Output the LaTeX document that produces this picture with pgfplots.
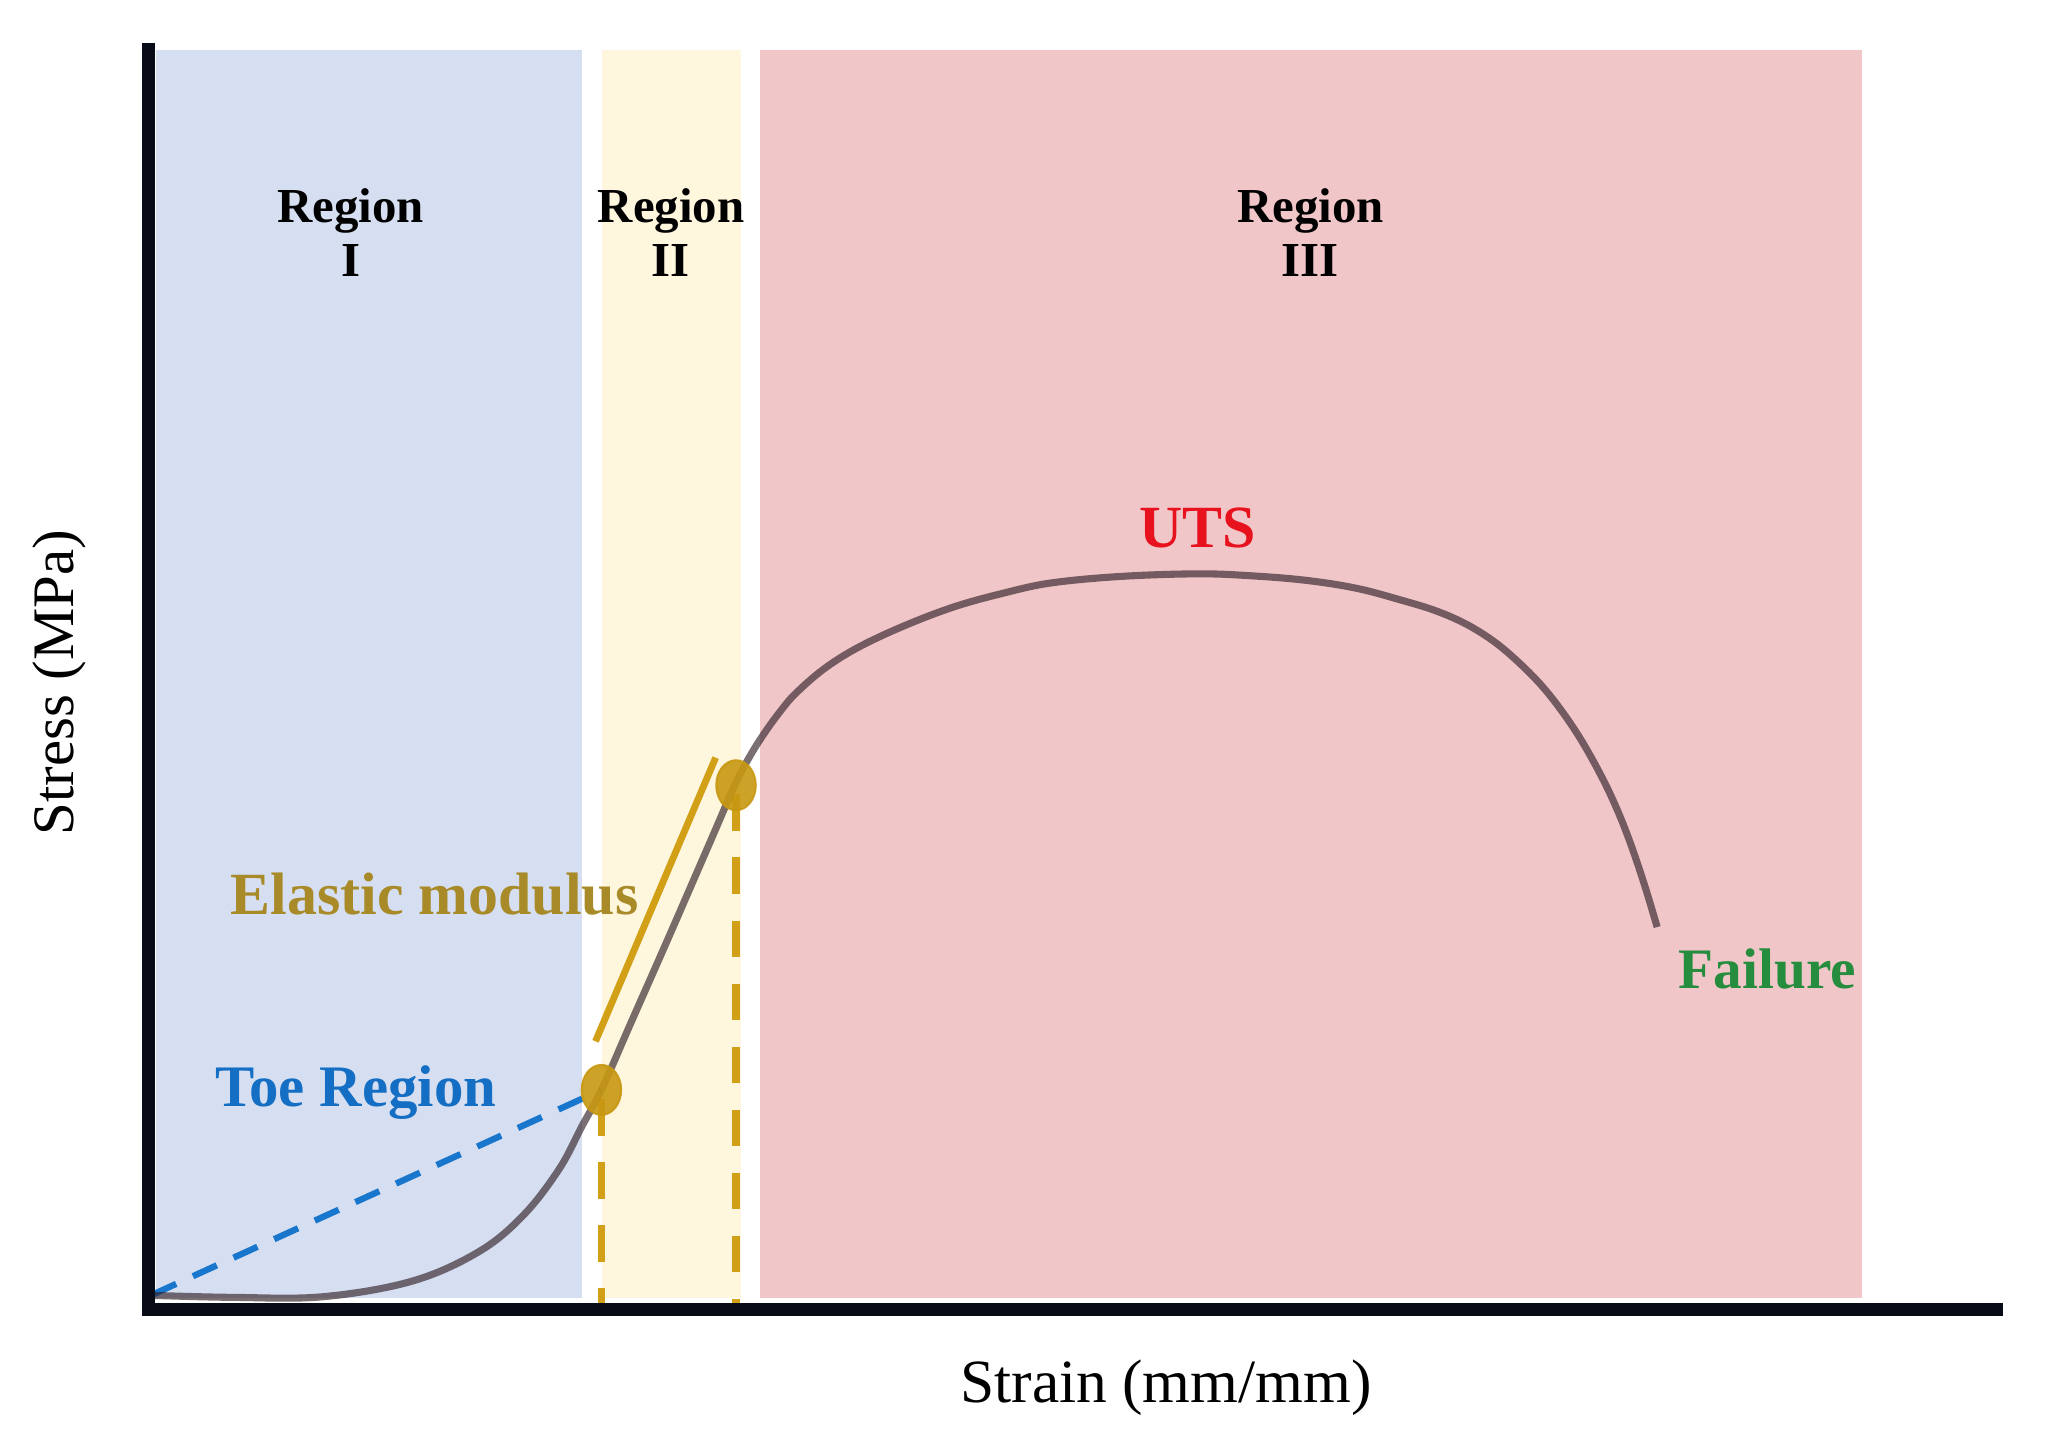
\documentclass[border=0pt]{standalone}
\usepackage{pgfplots}
\pgfplotsset{compat=1.18}
\usepackage{fontspec}
\setmainfont{Liberation Serif}
\definecolor{regI}{RGB}{214,223,241}
\definecolor{regII}{RGB}{255,246,222}
\definecolor{regIII}{RGB}{241,198,200}
\definecolor{curvec}{RGB}{50,35,42}
\definecolor{goldc}{RGB}{210,160,22}
\definecolor{dotc}{RGB}{200,152,18}
\definecolor{elastc}{RGB}{168,138,40}
\definecolor{toec}{RGB}{24,118,204}
\definecolor{toetext}{RGB}{20,110,195}
\definecolor{utsc}{RGB}{232,18,30}
\definecolor{failc}{RGB}{38,140,62}
\definecolor{axisc}{RGB}{8,12,22}
\begin{document}
\begin{tikzpicture}
\begin{axis}[
  scale only axis, width=351.75pt, height=239.75pt,
  xmin=0, xmax=1407, ymin=0, ymax=959,
  axis x line=bottom, axis y line=left,
  axis line style={line width=2.5pt, -, draw=axisc, line cap=rect},
  xtick=\empty, ytick=\empty,
  clip=false, axis on top,
]
% invisible frame for the page size
\path (axis cs:-113,-108) rectangle (axis cs:1455,997);
% region bands
\addplot[draw=none, fill=regI] coordinates {(5.7,8.4) (330,8.4) (330,959) (5.7,959)} -- cycle;
\addplot[draw=none, fill=regII] coordinates {(345.5,8.4) (451,8.4) (451,959) (345.5,959)} -- cycle;
\addplot[draw=none, fill=regIII] coordinates {(465.8,8.4) (1305,8.4) (1305,959) (465.8,959)} -- cycle;
% toe dashed line
\addplot[toec, line width=1.2pt, dash pattern=on 5pt off 3.5pt] coordinates {(3,11) (345,167)};
% gold dashed verticals
\addplot[goldc, line width=1.4pt, dash pattern=on 7pt off 5pt] coordinates {(345,160) (345,0)};
\addplot[goldc, line width=1.4pt, dash pattern=on 7pt off 5pt] coordinates {(447.5,392) (447.5,0)};
% stress-strain curve
\addplot[curvec, line width=1.35pt, opacity=0.65, smooth, tension=0.6] coordinates {
(4,10.5) (65,9) (133,9.5) (201,21.4) (252,44) (286,72) (313,107) (330,139) (345,167)
(367,217) (397,285) (427,354) (447,400) (458,421) (469,438.5) (481,455) (493,469) (515,488) (541.5,504.5)
(577,521) (614,535) (650,545) (687,553) (740,558) (799,560) (840,558.5) (882,555) (920,549) (954,540)
(980,532) (1003,522) (1024,509) (1042,494) (1060,476) (1076,456) (1092,432) (1108,403) (1120,377) (1130,351) (1140,321) (1149,291)};
% elastic modulus line
\addplot[goldc, line width=1.3pt] coordinates {(340.5,204) (432,420)};
% dots
\addplot[dotc, only marks, mark=*, mark size=4.75pt, mark options={xscale=0.79, fill=dotc, draw=dotc, opacity=0.9}] coordinates {(345,167) (447.5,399)};
% labels
\node[font=\bfseries\fontsize{9.3}{10.3}\selectfont, align=center] at (axis cs:154,820) {Region\\I};
\node[font=\bfseries\fontsize{9.3}{10.3}\selectfont, align=center] at (axis cs:398,820) {Region\\II};
\node[font=\bfseries\fontsize{9.3}{10.3}\selectfont, align=center] at (axis cs:885,820) {Region\\III};
\node[font=\bfseries\fontsize{11.4}{13}\selectfont, text=utsc] at (axis cs:799,595) {UTS};
\node[font=\bfseries\fontsize{11.4}{13}\selectfont, text=elastc] at (axis cs:218,316) {Elastic modulus};
\node[font=\bfseries\fontsize{11.2}{13}\selectfont, text=toetext] at (axis cs:158,165) {Toe Region};
\node[font=\bfseries\fontsize{10.9}{13}\selectfont, text=failc] at (axis cs:1233,259) {Failure};
\node[rotate=90, font=\fontsize{11.2}{13}\selectfont] at (axis cs:-68,477) {Stress (MPa)};
\node[font=\fontsize{11.7}{13}\selectfont] at (axis cs:775,-60) {Strain (mm/mm)};
\end{axis}
\end{tikzpicture}
\end{document}
